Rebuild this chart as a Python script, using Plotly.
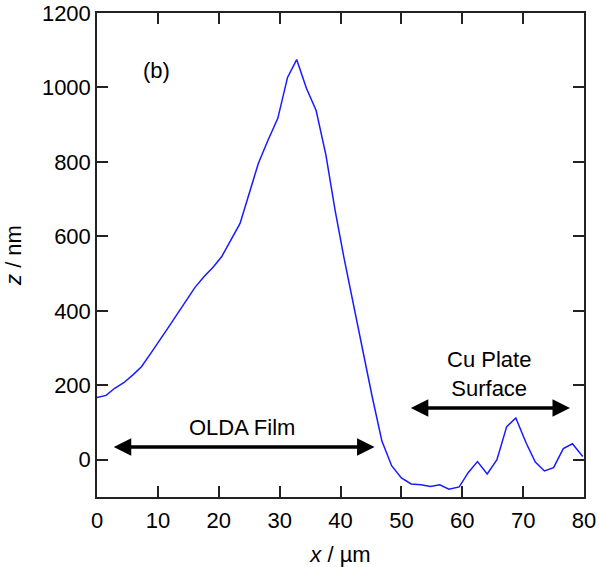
import plotly.graph_objects as go

x_um = [0, 1.5, 2.9, 4.4, 5.9, 7.3, 8.8, 10.3, 11.7, 13.2, 14.7, 16.1, 17.6, 19.1, 20.5,
        22.0, 23.5, 25.0, 26.5, 28.0, 29.7, 31.3, 32.8, 34.4, 36.0, 37.6, 39.1, 40.6,
        42.2, 43.7, 45.2, 46.8, 48.4, 50.0, 51.6, 53.2, 54.8, 56.3, 57.8, 59.5, 61.0,
        62.5, 64.1, 65.7, 67.3, 68.8, 70.5, 72.0, 73.5, 75.0, 76.6, 78.1, 79.8]
z_nm = [167, 173, 192, 207, 228, 250, 285, 320, 355, 392, 430, 463, 492, 518, 546,
        590, 635, 715, 796, 855, 917, 1027, 1075, 998, 938, 819, 671, 540,
        410, 290, 170, 50, -16, -49, -65, -67, -72, -67, -79, -73, -34,
        -5, -38, 0, 89, 112, 45, -6, -30, -21, 30, 43, 9]

film_arrow_x = [2.5, 45.6]
film_arrow_y = 34
cu_arrow_x = [51.3, 77.7]
cu_arrow_y = 139

font_family = "Liberation Sans, Arial, sans-serif"
fs = 22

fig = go.Figure()
fig.add_trace(go.Scatter(x=x_um, y=z_nm, mode="lines",
                         line=dict(color="#1a1aff", width=1.5), showlegend=False))

annotations = [
    dict(x=film_arrow_x[1], y=film_arrow_y, ax=film_arrow_x[0], ay=film_arrow_y,
         xref="x", yref="y", axref="x", ayref="y", text="", showarrow=True,
         arrowhead=2, arrowside="end+start", arrowsize=1, arrowwidth=3.5, arrowcolor="black"),
    dict(x=cu_arrow_x[1], y=cu_arrow_y, ax=cu_arrow_x[0], ay=cu_arrow_y,
         xref="x", yref="y", axref="x", ayref="y", text="", showarrow=True,
         arrowhead=2, arrowside="end+start", arrowsize=1, arrowwidth=3.5, arrowcolor="black"),
    dict(x=23.8, y=86, xref="x", yref="y", text="OLDA Film", showarrow=False,
         font=dict(size=fs, color="black", family=font_family)),
    dict(x=64.4, y=231, xref="x", yref="y", text="Cu Plate<br>Surface", showarrow=False,
         font=dict(size=fs, color="black", family=font_family)),
    dict(x=9.7, y=1045, xref="x", yref="y", text="(b)", showarrow=False,
         font=dict(size=fs, color="black", family=font_family)),
]

axis_common = dict(showline=True, linecolor="#222", linewidth=1.5, mirror="ticks",
                   ticks="inside", ticklen=11, tickwidth=1.5, tickcolor="#222",
                   showgrid=False, zeroline=False, automargin=False,
                   tickfont=dict(size=fs, color="black", family=font_family))

fig.update_layout(
    width=599, height=567,
    margin=dict(l=97, r=15, t=13, b=70),
    paper_bgcolor="white", plot_bgcolor="white",
    xaxis=dict(range=[0, 80], dtick=10, tick0=0, ticklabelstandoff=3,
               title=dict(text="<i>x</i> / µm", font=dict(size=fs, color="black", family=font_family), standoff=14),
               **axis_common),
    yaxis=dict(range=[-100, 1200], dtick=200, tick0=0,
               title=dict(text="<i>z</i> / nm", font=dict(size=fs, color="black", family=font_family), standoff=14),
               **axis_common),
    annotations=annotations,
)

fig.write_html("out.html")
